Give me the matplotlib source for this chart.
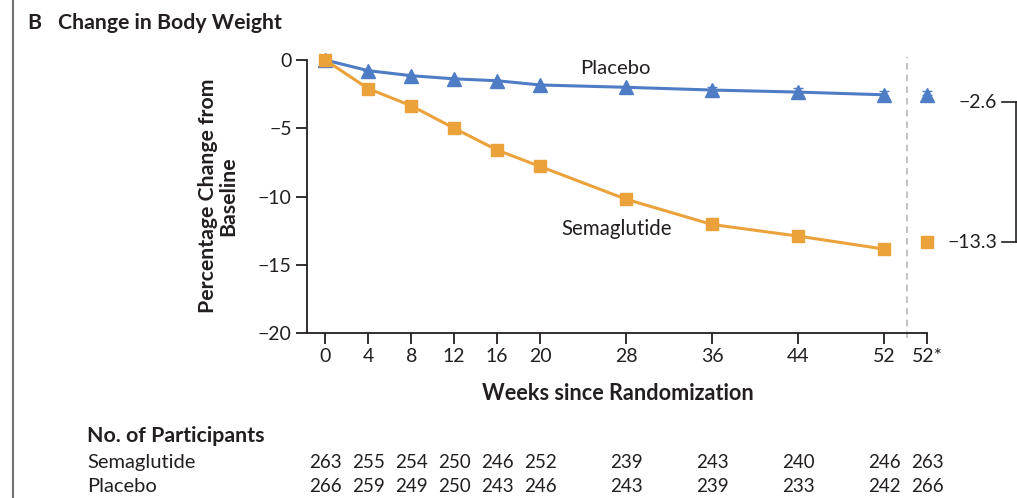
import matplotlib
matplotlib.use("Agg")
import matplotlib.pyplot as plt
import matplotlib.transforms as mtransforms
from matplotlib.lines import Line2D

plt.rcParams['font.family'] = ['Lato', 'DejaVu Sans']

weeks = [0, 4, 8, 12, 16, 20, 28, 36, 44, 52]
sema = [0.0, -2.1, -3.35, -5.0, -6.6, -7.8, -10.2, -12.05, -12.9, -13.85]
placebo = [0.0, -0.78, -1.15, -1.38, -1.52, -1.83, -2.0, -2.2, -2.35, -2.55]
sema_err = [0, 0, 0, 0, 0, 0, 0, 0.2, 0.25, 0.35]
placebo_err = [0, 0, 0, 0, 0, 0, 0, 0.25, 0.3, 0.3]
final_week = 56
final_label = "52*"
sema_final = -13.3
placebo_final = -2.6
tick_weeks = weeks + [final_week]
tick_labels = [str(w) for w in weeks] + [final_label]
n_sema = [263, 255, 254, 250, 246, 252, 239, 243, 240, 246, 263]
n_placebo = [266, 259, 249, 250, 243, 246, 243, 239, 233, 242, 266]

blue = "#4E7DC6"
orange = "#EBA23A"
dark = "#231F20"

W, H = 1017, 498
fig = plt.figure(figsize=(W / 100, H / 100), dpi=100)
ax = fig.add_axes([307 / W, 1 - 333 / H, (928 - 307) / W, (333 - 60) / H])

ax.errorbar(weeks, placebo, yerr=placebo_err, color=blue, lw=2.2, marker="^",
            ms=9.5, capsize=3.5, elinewidth=1.2, clip_on=False, zorder=3)
ax.errorbar(weeks, sema, yerr=sema_err, color=orange, lw=2.2, marker="s",
            ms=9, capsize=3.5, elinewidth=1.2, clip_on=False, zorder=3)
ax.errorbar([final_week], [placebo_final], yerr=[[0], [0.3]], color=blue, marker="^",
            ms=9.5, capsize=3.5, elinewidth=1.2, ls="none", clip_on=False, zorder=3)
ax.plot([final_week], [sema_final], color=orange, marker="s", ms=9, ls="none",
        clip_on=False, zorder=3)

ax.axvline(54.1, ymin=-0.02, ymax=1.01, color="#B8B8B8", lw=1.2, ls=(0, (4, 3)),
           clip_on=False)

ax.set_xlim(-1.7, 56.1)
ax.set_ylim(-20, 0)
ax.set_yticks([0, -5, -10, -15, -20])
ax.set_yticklabels(["0", "\u22125", "\u221210", "\u221215", "\u221220"])
ax.set_xticks(tick_weeks)
ax.set_xticklabels(tick_labels)
for s in ["top", "right"]:
    ax.spines[s].set_visible(False)
for s in ["left", "bottom"]:
    ax.spines[s].set_color(dark)
    ax.spines[s].set_linewidth(1.3)
ax.spines["bottom"].set_bounds(-1.7, final_week)
ax.tick_params(axis="both", direction="out", length=8, width=1.3, color=dark,
               labelsize=14, labelcolor=dark, pad=3)

ax.text(27, -0.65, "Placebo", fontsize=14.6, color=dark, ha="center", va="center")
ax.text(27.1, -12.4, "Semaglutide", fontsize=14.8, color=dark, ha="center", va="center")

# right annotations
ftr = fig.transFigure
ax.text(997 / W, 1 - 102 / H, "\u22122.6", transform=ftr, fontsize=14, color=dark,
        ha="right", va="center")
ax.text(997 / W, 1 - 242 / H, "\u221213.3", transform=ftr, fontsize=14, color=dark,
        ha="right", va="center")
fig.add_artist(Line2D([1002 / W, 1017 / W], [1 - 102 / H, 1 - 102 / H], transform=ftr,
                      color=dark, lw=1.2))
fig.add_artist(Line2D([1002 / W, 1017 / W], [1 - 242 / H, 1 - 242 / H], transform=ftr,
                      color=dark, lw=1.2))
fig.add_artist(Line2D([1016 / W, 1016 / W], [1 - 102 / H, 1 - 242 / H], transform=ftr,
                      color=dark, lw=1.2))

# left border
fig.add_artist(Line2D([13 / W, 13 / W], [0, 1], transform=ftr, color="#707070", lw=1.5))

# titles and labels
fig.text(27 / W, 1 - 23 / H, "B", fontsize=15.3, fontweight="bold", color=dark,
         ha="left", va="center")
fig.text(58 / W, 1 - 23 / H, "Change in Body Weight", fontsize=15.3, fontweight="bold",
         color=dark, ha="left", va="center")
fig.text(218 / W, 1 - 196 / H, "Percentage Change from\nBaseline", fontsize=15.3,
         fontweight="bold", color=dark, rotation=90, ha="center", va="center",
         multialignment="center", linespacing=1.0)
fig.text(618 / W, 1 - 394 / H, "Weeks since Randomization", fontsize=15.6,
         fontweight="bold", color=dark, ha="center", va="center")

# table
fig.text(87 / W, 1 - 436 / H, "No. of Participants", fontsize=15.4, fontweight="bold",
         color=dark, ha="left", va="center")
fig.text(87 / W, 1 - 462 / H, "Semaglutide", fontsize=14.5, color=dark, ha="left",
         va="center")
fig.text(87 / W, 1 - 486 / H, "Placebo", fontsize=14.5, color=dark, ha="left",
         va="center")
blend = mtransforms.blended_transform_factory(ax.transData, ftr)
for w, a, b in zip(tick_weeks, n_sema, n_placebo):
    ax.text(w, 1 - 462 / H, str(a), transform=blend, fontsize=13.5, color=dark,
            ha="center", va="center")
    ax.text(w, 1 - 486 / H, str(b), transform=blend, fontsize=13.5, color=dark,
            ha="center", va="center")

fig.savefig("out.png", dpi=100, facecolor="white")
